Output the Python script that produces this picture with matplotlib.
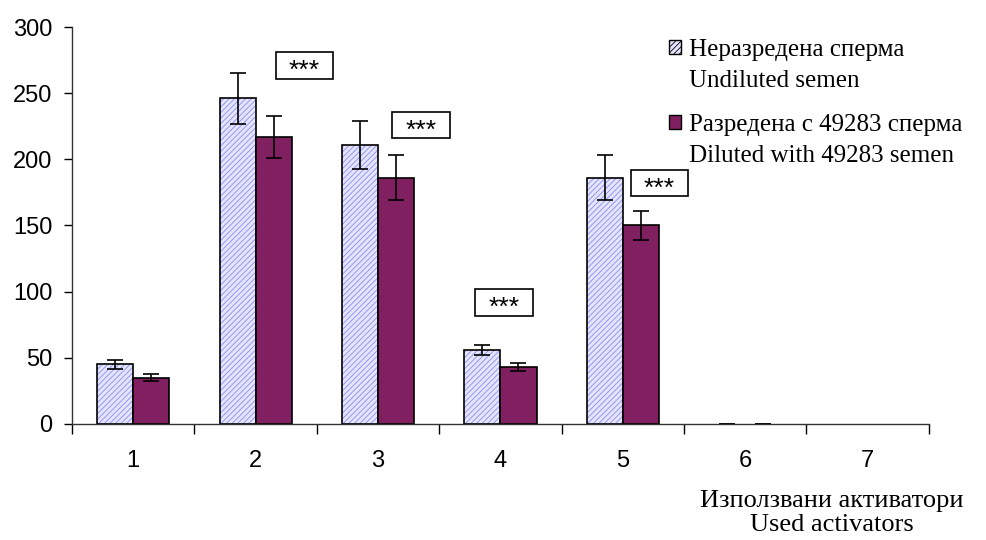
import matplotlib.pyplot as plt
from matplotlib.patches import Patch
import numpy as np

plt.rcParams['font.family'] = ['Liberation Sans', 'DejaVu Sans']
plt.rcParams['hatch.linewidth'] = 0.6

# data
cats = ['1', '2', '3', '4', '5', '6', '7']
undiluted = [45, 246, 211, 56, 186, 0, np.nan]
undiluted_err = [3.5, 19, 18, 4, 17, 0, np.nan]
diluted = [35, 217, 186, 43, 150, 0, np.nan]
diluted_err = [2.5, 16, 17, 3, 11, 0, np.nan]
# "***" marks: (x, y) in data units
stars_x = [1.40, 2.35, 3.03, 4.30]
stars_y = [271, 226, 92, 182]

light = '#e4e4ff'
hatchc = '#8c8cf0'
dark = '#802060'

fig = plt.figure(figsize=(9.87, 5.4), dpi=100)
ax = fig.add_axes([0.073, 0.215, 0.868, 0.735])

x = np.arange(len(cats))
w = 0.295
u = np.array(undiluted, dtype=float)
d = np.array(diluted, dtype=float)
u_bar = np.where(u > 0, u, np.nan)
d_bar = np.where(d > 0, d, np.nan)

# hatched light bars: hatch drawn first, black outline on top
ax.bar(x - w / 2, u_bar, w, color=light, edgecolor=hatchc, hatch='//////', linewidth=0)
ax.bar(x - w / 2, u_bar, w, fill=False, edgecolor='black', linewidth=1.2)
ax.bar(x + w / 2, d_bar, w, color=dark, edgecolor='black', linewidth=1.2)

ax.errorbar(x - w / 2, u, yerr=undiluted_err, fmt='none', ecolor='black',
            elinewidth=1.2, capsize=6, capthick=1.2)
ax.errorbar(x + w / 2, d, yerr=diluted_err, fmt='none', ecolor='black',
            elinewidth=1.2, capsize=6, capthick=1.2)

# boxes with stars
for sx, sy in zip(stars_x, stars_y):
    ax.text(sx, sy, ' ' * 8, ha='center', va='center', fontsize=17,
            bbox=dict(boxstyle='square,pad=0.1', fc='white', ec='black', lw=1.2))
    ax.annotate('***', (sx, sy), xytext=(0, -4), textcoords='offset points',
                ha='center', va='center', fontsize=19)

ax.set_xlim(-0.5, 6.5)
ax.set_ylim(0, 300)
ax.set_yticks(np.arange(0, 301, 50))
ax.tick_params(axis='y', labelsize=17, length=6, width=1, pad=8, direction='out', colors='black')
ax.set_xticks(np.arange(-0.5, 7, 1))
ax.set_xticklabels([])
ax.tick_params(axis='x', length=7, width=1, direction='out')
ax.set_xticks(x, minor=True)
ax.set_xticklabels(cats, minor=True, fontsize=17)
ax.tick_params(axis='x', which='minor', length=0, pad=19)
for s in ['top', 'right']:
    ax.spines[s].set_visible(False)
for s in ['left', 'bottom']:
    ax.spines[s].set_color('#333333')
    ax.spines[s].set_linewidth(1)

blank = Patch(facecolor='none', edgecolor='none')
leg_font = {'family': 'Liberation Serif', 'size': 18}
entries = [
    (Patch(facecolor=light, edgecolor='black', hatch='//////'),
     ['Неразредена сперма', 'Undiluted semen'], 0.96),
    (Patch(facecolor=dark, edgecolor='black'),
     ['Разредена с 49283 сперма', 'Diluted with 49283 semen'], 0.821),
]
for h, labs, top in entries:
    fig.legend([h, blank], labs, loc='upper left', bbox_to_anchor=(0.66, top),
               frameon=False, prop=leg_font,
               handlelength=0.5, handleheight=0.5, handletextpad=0.3,
               labelspacing=0.35, borderpad=0.2)

fig.text(0.843, 0.05, 'Използвани активатори\nUsed activators', ha='center', va='center',
         fontsize=19, family='Liberation Serif', linespacing=1.15)

fig.savefig('out.png', dpi=100)
